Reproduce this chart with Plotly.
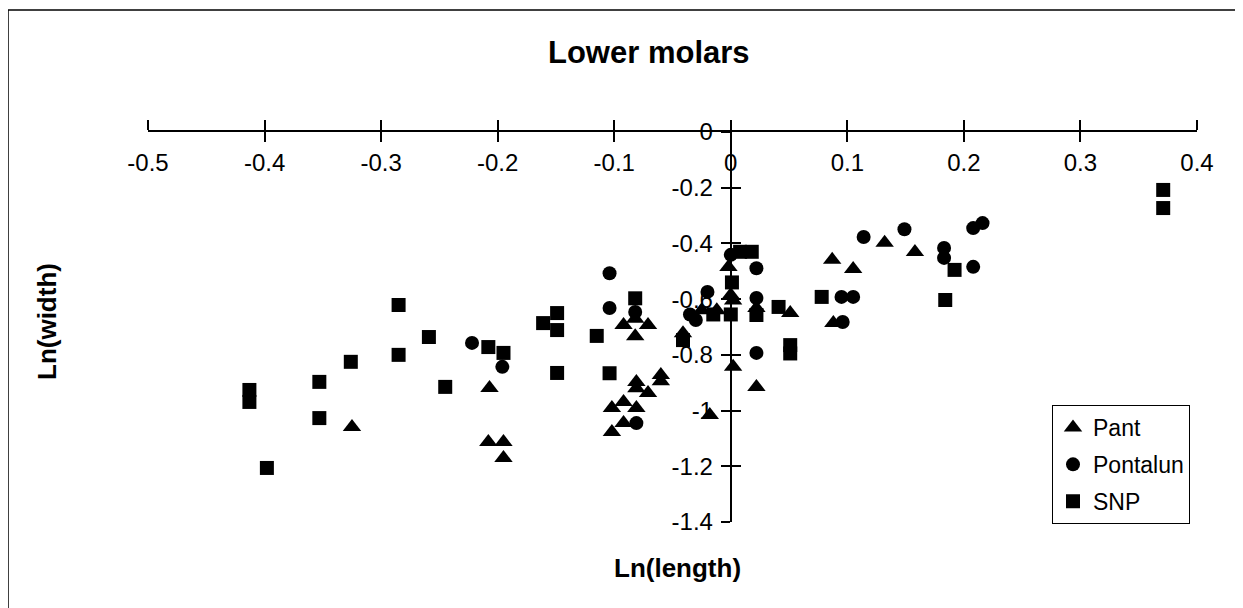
import plotly.graph_objects as go

# ---- data ----
pant_x = [-0.325, -0.207, -0.208, -0.195, -0.195, -0.092, -0.071, -0.082, -0.082,
          -0.081, -0.081, -0.060, -0.060, -0.071, -0.102, -0.092, -0.081, -0.092, -0.102,
          -0.041, -0.018, 0.002, 0.022, -0.002, 0.000, 0.002, -0.012, -0.025,
          0.022, 0.051, 0.087, 0.105, 0.088, 0.132, 0.158]
pant_y = [-1.059, -0.919, -1.113, -1.113, -1.170, -0.693, -0.693, -0.733, -0.670,
          -0.897, -0.920, -0.872, -0.895, -0.937, -0.991, -0.969, -0.991, -1.045, -1.077,
          -0.722, -1.016, -0.843, -0.915, -0.485, -0.585, -0.605, -0.640, -0.640,
          -0.632, -0.650, -0.459, -0.492, -0.686, -0.398, -0.431]

pontalun_x = [-0.222, -0.196, -0.104, -0.104, -0.082, -0.081, -0.030, -0.020, -0.035,
              0.000, 0.022, 0.022, 0.022, 0.095, 0.105, 0.096, 0.114, 0.149,
              0.183, 0.183, 0.208, 0.208, 0.216]
pontalun_y = [-0.757, -0.843, -0.507, -0.632, -0.646, -1.045, -0.675, -0.574, -0.655,
              -0.441, -0.489, -0.596, -0.793, -0.592, -0.592, -0.682, -0.377, -0.349,
              -0.416, -0.452, -0.484, -0.345, -0.327]

snp_x = [-0.413, -0.413, -0.398, -0.353, -0.353, -0.326, -0.285, -0.285, -0.259,
         -0.245, -0.208, -0.195, -0.161, -0.149, -0.149, -0.149, -0.115, -0.104,
         -0.082, -0.041, -0.015, 0.000, 0.001, 0.008, 0.018, 0.022, 0.041,
         0.051, 0.051, 0.078, 0.184, 0.192, 0.371, 0.371]
snp_y = [-0.926, -0.969, -1.206, -0.897, -1.027, -0.825, -0.621, -0.800, -0.736,
         -0.915, -0.772, -0.793, -0.686, -0.650, -0.711, -0.865, -0.732, -0.866,
         -0.597, -0.747, -0.655, -0.655, -0.540, -0.430, -0.430, -0.657, -0.628,
         -0.765, -0.795, -0.592, -0.603, -0.495, -0.208, -0.273]

x_ticks = [-0.5, -0.4, -0.3, -0.2, -0.1, 0, 0.1, 0.2, 0.3, 0.4]
x_labels = ["-0.5", "-0.4", "-0.3", "-0.2", "-0.1", "0", "0.1", "0.2", "0.3", "0.4"]
y_ticks = [0, -0.2, -0.4, -0.6, -0.8, -1.0, -1.2, -1.4]
y_labels = ["0", "-0.2", "-0.4", "-0.6", "-0.8", "-1", "-1.2", "-1.4"]

FONT = "Arial, Liberation Sans, sans-serif"

fig = go.Figure()
for name, xs, ys, sym, sz in [("Pant", pant_x, pant_y, "triangle-up", 16),
                              ("Pontalun", pontalun_x, pontalun_y, "circle", 14),
                              ("SNP", snp_x, snp_y, "square", 14)]:
    fig.add_trace(go.Scatter(x=xs, y=ys, mode="markers", name=name, legendgroup=name,
                             marker=dict(symbol=sym, size=sz, color="black",
                                         line=dict(width=0))))

XR = [-0.5, 0.4]
YR = [-1.4, 0]
xpos = (0 - XR[0]) / (XR[1] - XR[0])

# page is offset by 8px (body margin); plot area targets page px 148..1197 x 132..522
fig.update_layout(
    width=1243, height=608,
    margin=dict(l=140, r=54, t=124, b=94),
    paper_bgcolor="white", plot_bgcolor="white",
    font=dict(family=FONT, size=23, color="black"),
    showlegend=True,
    legend=dict(x=(1052 - 148) / 1049, y=(522 - 405) / 390, xanchor="left", yanchor="top",
                bordercolor="black", borderwidth=1, bgcolor="white",
                font=dict(size=23, family=FONT, color="black"), traceorder="grouped",
                tracegroupgap=4, itemwidth=30),
    xaxis=dict(range=XR, side="top", showgrid=False, zeroline=False,
               showline=True, linecolor="black", linewidth=2,
               tickvals=x_ticks, ticktext=x_labels, ticks="outside", ticklen=10,
               tickwidth=1.5, tickcolor="black", ticklabelposition="inside",
               ticklabelstandoff=24, ticklabeloverflow="allow",
               tickfont=dict(size=24, family=FONT, color="black")),
    xaxis2=dict(range=XR, side="top", overlaying="x", showgrid=False, zeroline=False,
                showline=False, tickvals=x_ticks, ticks="inside", ticklen=10,
                tickwidth=1.5, tickcolor="black", showticklabels=False),
    yaxis=dict(range=YR, anchor="free", position=xpos, showgrid=False, zeroline=False,
               showline=True, linecolor="black", linewidth=2,
               tickvals=y_ticks, ticktext=y_labels, ticks="outside", ticklen=9,
               tickwidth=1.5, tickcolor="black", ticklabeloverflow="allow",
               ticklabelstandoff=3, tickfont=dict(size=24, family=FONT, color="black")),
    yaxis2=dict(range=YR, anchor="free", position=xpos, overlaying="y",
                showgrid=False, zeroline=False, showline=False,
                tickvals=y_ticks, ticks="inside", ticklen=9, tickwidth=1.5,
                tickcolor="black", showticklabels=False),
)
# invisible trace so the overlay (crossing-tick) axes render
fig.add_trace(go.Scatter(x=[None], y=[None], xaxis="x2", yaxis="y2",
                         showlegend=False, hoverinfo="skip"))

fig.add_annotation(text="<b>Lower molars</b>", xref="paper", yref="paper",
                   x=(649 - 148) / 1049, y=(522 - 52) / 390, showarrow=False,
                   xanchor="center", yanchor="middle",
                   font=dict(size=31, family=FONT, color="black"))
fig.add_annotation(text="<b>Ln(length)</b>", xref="paper", yref="paper",
                   x=(677 - 148) / 1049, y=(522 - 568) / 390, showarrow=False,
                   xanchor="center", yanchor="middle",
                   font=dict(size=26, family=FONT, color="black"))
fig.add_annotation(text="<b>Ln(width)</b>", xref="paper", yref="paper",
                   x=(47 - 148) / 1049, y=(522 - 322) / 390, showarrow=False,
                   xanchor="center", yanchor="middle",
                   textangle=-90, font=dict(size=26, family=FONT, color="black"))

# outer frame (left and top edge of the scanned chart box)
fig.add_shape(type="line", xref="paper", yref="paper",
              x0=(8 - 148) / 1049, x1=(8 - 148) / 1049,
              y0=(522 - 10) / 390, y1=(522 - 620) / 390,
              line=dict(color="black", width=1.5))
fig.add_shape(type="line", xref="paper", yref="paper",
              x0=(8 - 148) / 1049, x1=(1250 - 148) / 1049,
              y0=(522 - 10) / 390, y1=(522 - 10) / 390,
              line=dict(color="black", width=1.5))

fig.write_html("out.html")
